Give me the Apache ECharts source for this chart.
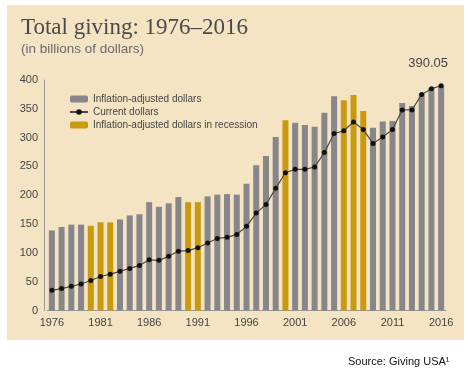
<!DOCTYPE html>
<html>
<head>
<meta charset="utf-8">
<script src="https://cdn.jsdelivr.net/npm/echarts@6/dist/echarts.min.js"></script>
<style>
	html, body {margin: 0; padding: 0; background: #fff;}
	#chart {width: 469px; height: 375px;}
</style>
</head>
<body>
<div id="chart"></div>
<script type="text/javascript">
	// 年份
	var years = ['1976', '1977', '1978', '1979', '1980', '1981', '1982', '1983', '1984', '1985',
		'1986', '1987', '1988', '1989', '1990', '1991', '1992', '1993', '1994', '1995',
		'1996', '1997', '1998', '1999', '2000', '2001', '2002', '2003', '2004', '2005',
		'2006', '2007', '2008', '2009', '2010', '2011', '2012', '2013', '2014', '2015', '2016'];
	// inflation-adjusted dollars (billions)
	var inflationAdjusted = [139, 145, 149, 149, 147, 153, 153, 158, 165, 167,
		188, 180, 186, 197, 188, 188, 198, 201, 202, 201,
		220, 252, 268, 301, 330, 326, 322, 319, 343, 372,
		365, 374, 346, 317, 328, 329, 360, 355, 376, 386, 391];
	// current dollars (billions)
	var currentDollars = [35, 38, 42, 46, 52, 59, 63, 68, 73, 78,
		88, 87, 94, 103, 104, 109, 117, 125, 127, 132,
		146, 169, 184, 212, 239, 245, 245, 249, 274, 307,
		312, 327, 314, 290, 301, 314, 348, 348, 375, 385, 390.05];
	var recessionYears = ['1980', '1981', '1982', '1990', '1991', '2000', '2006', '2007', '2008'];
	var yTicks = [0, 50, 100, 150, 200, 250, 300, 350, 400];

	var normalBars = [], recessionBars = [], lineData = [];
	for (var i = 0; i < years.length; i++) {
		var inRecession = recessionYears.indexOf(years[i]) > -1;
		normalBars.push(inRecession ? '-' : inflationAdjusted[i]);
		recessionBars.push(inRecession ? inflationAdjusted[i] : '-');
		lineData.push(currentDollars[i]);
	}
	// 最后一个点显示数值
	lineData[lineData.length - 1] = {
		value: currentDollars[currentDollars.length - 1],
		label: {
			show: true,
			position: 'top',
			distance: 5,
			offset: [-13, -8],
			color: '#444',
			fontSize: 13,
			fontFamily: 'Liberation Sans'
		}
	};

	var axisFont = {color: '#444', fontSize: 11, fontFamily: 'Liberation Sans'};

	var option = {
		animation: false,
		backgroundColor: '#fff',
		textStyle: {fontFamily: 'Liberation Sans'},
		graphic: [
			{type: 'rect', shape: {x: 7, y: 5, width: 457, height: 335}, style: {fill: '#F5E4C3'}, z: -10},
			{type: 'text', left: 21, top: 16, style: {text: 'Total giving: 1976\u20132016', fill: '#4a4a4a', font: '23px "Liberation Serif"'}},
			{type: 'text', left: 21, top: 42, style: {text: '(in billions of dollars)', fill: '#6a6a6a', font: '13.5px "Liberation Sans"'}},
			{type: 'text', left: 348, top: 356, style: {text: 'Source: Giving USA\u00b9', fill: '#111', font: '11px "Liberation Sans"'}}
		],
		legend: {
			orient: 'vertical',
			left: 64,
			top: 89,
			itemWidth: 18,
			itemHeight: 7,
			itemGap: 3,
			textStyle: {color: '#444', fontSize: 10, fontFamily: 'Liberation Sans'},
			data: ['Inflation-adjusted dollars', 'Current dollars', 'Inflation-adjusted dollars in recession']
		},
		grid: {left: 47, right: 23, top: 80, bottom: 64.5},
		xAxis: {
			type: 'category',
			data: years,
			axisLine: {lineStyle: {color: '#999'}},
			axisTick: {show: false},
			axisLabel: {
				interval: 4,
				margin: 7,
				color: axisFont.color,
				fontSize: axisFont.fontSize,
				fontFamily: axisFont.fontFamily
			}
		},
		yAxis: {
			type: 'value',
			min: yTicks[0],
			max: yTicks[yTicks.length - 1],
			interval: yTicks[1] - yTicks[0],
			offset: 3,
			axisLine: {show: true, lineStyle: {color: '#999'}},
			axisTick: {show: false},
			splitLine: {show: false},
			axisLabel: {color: axisFont.color, fontSize: axisFont.fontSize, fontFamily: axisFont.fontFamily, margin: 6}
		},
		series: [
			{
				name: 'Inflation-adjusted dollars',
				type: 'bar',
				barWidth: 6,
				barGap: '-100%',
				itemStyle: {color: '#86868b'},
				data: normalBars
			},
			{
				name: 'Current dollars',
				type: 'line',
				symbol: 'circle',
				symbolSize: 5,
				z: 5,
				lineStyle: {color: '#4a4a4a', width: 1.2},
				itemStyle: {color: '#111'},
				data: lineData
			},
			{
				name: 'Inflation-adjusted dollars in recession',
				type: 'bar',
				barWidth: 6,
				barGap: '-100%',
				itemStyle: {color: '#c99a10'},
				data: recessionBars
			}
		]
	};

	var myChart = echarts.init(document.getElementById('chart'));
	myChart.setOption(option);
</script>
</body>
</html>
